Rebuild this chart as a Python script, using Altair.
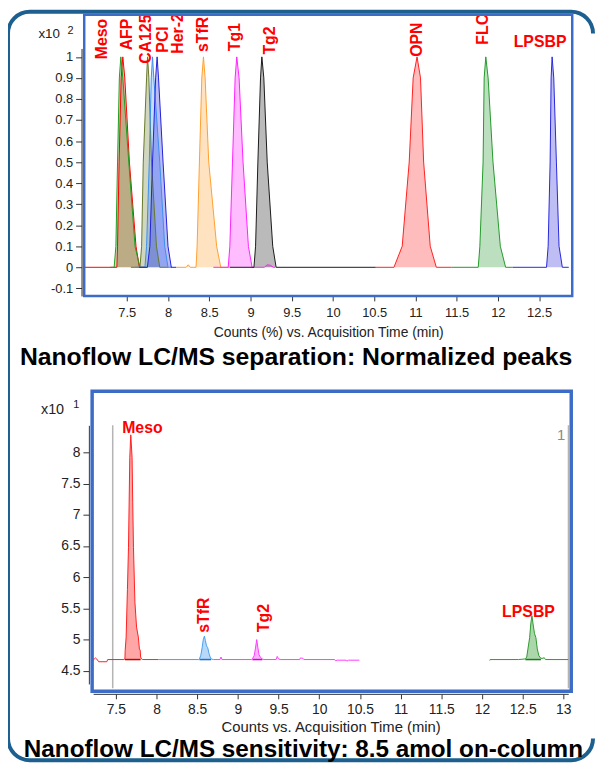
import altair as alt
import pandas as pd

W, H = 591, 756
FONT = "Liberation Sans"

# ---------------- top panel: normalized peaks ----------------
TOP_NAMES = ["Meso", "AFP", "CA125", "PCI", "Her-2", "sTfR", "Tg1", "Tg2", "OPN", "FLC", "LPSBP"]
TOP_COLORS = ["#ff0000", "#1e9e1e", "#66782a", "#3b8ff2", "#2020dd", "#ffa030",
              "#ff22ff", "#1a1a1a", "#ff2020", "#22992a", "#2727dd"]

MESO_T = [6.984, 7.38, 7.388, 7.407, 7.432, 7.452, 7.476, 7.532, 7.612, 7.653, 7.72]
MESO_V = [0, 0, 0.1, 0.5, 0.9, 1.0, 0.9, 0.5, 0.1, 0, 0]
AFP_T = [7.30, 7.347, 7.368, 7.388, 7.41, 7.428, 7.452, 7.524, 7.60, 7.66, 7.75]
AFP_V = [0, 0, 0.1, 0.5, 0.9, 1.0, 0.9, 0.5, 0.1, 0, 0]
CA125_T = [7.55, 7.66, 7.68, 7.70, 7.74, 7.752, 7.768, 7.80, 7.86, 7.90, 8.0]
CA125_V = [0, 0, 0.1, 0.5, 0.9, 1.0, 0.9, 0.5, 0.1, 0, 0]
PCI_T = [7.60, 7.72, 7.74, 7.773, 7.797, 7.812, 7.828, 7.90, 7.96, 8.0, 8.05]
PCI_V = [0, 0, 0.1, 0.5, 0.9, 1.0, 0.9, 0.5, 0.1, 0, 0]
HER2_T = [7.65, 7.75, 7.78, 7.812, 7.85, 7.868, 7.885, 7.94, 8.0, 8.04, 8.10]
HER2_V = [0, 0, 0.1, 0.5, 0.9, 1.0, 0.9, 0.5, 0.1, 0, 0]
STFR_T = [8.10, 8.22, 8.245, 8.27, 8.34, 8.353, 8.381, 8.41, 8.43, 8.45, 8.494, 8.59, 8.64, 8.75]
STFR_V = [0, 0, 0.012, 0, 0, 0.1, 0.5, 0.9, 1.0, 0.9, 0.5, 0.1, 0, 0]
TG1_T = [8.55, 8.73, 8.75, 8.782, 8.814, 8.834, 8.862, 8.91, 8.975, 9.02, 9.17, 9.20, 9.24, 9.28, 9.30]
TG1_V = [0, 0, 0.1, 0.5, 0.9, 1.0, 0.9, 0.5, 0.1, 0, 0, 0.012, 0.01, 0, 0]
TG2_T = [8.75, 9.042, 9.062, 9.09, 9.122, 9.138, 9.162, 9.203, 9.27, 9.311, 10.52]
TG2_V = [0, 0, 0.1, 0.5, 0.9, 1.0, 0.9, 0.5, 0.1, 0, 0]
OPN_T = [10.52, 10.74, 10.84, 10.925, 10.973, 11.02, 11.062, 11.10, 11.18, 11.254, 11.44]
OPN_V = [0, 0, 0.1, 0.5, 0.9, 1.0, 0.9, 0.5, 0.1, 0, 0]
FLC_T = [11.44, 11.762, 11.782, 11.821, 11.834, 11.854, 11.882, 11.941, 12.03, 12.094, 12.18]
FLC_V = [0, 0, 0.1, 0.5, 0.9, 1.0, 0.9, 0.5, 0.1, 0, 0]
LPSBP_T = [12.18, 12.59, 12.61, 12.634, 12.646, 12.658, 12.678, 12.71, 12.742, 12.782, 12.86]
LPSBP_V = [0, 0, 0.1, 0.5, 0.9, 1.0, 0.9, 0.5, 0.1, 0, 0]

TOP_T = [MESO_T, AFP_T, CA125_T, PCI_T, HER2_T, STFR_T, TG1_T, TG2_T, OPN_T, FLC_T, LPSBP_T]
TOP_V = [MESO_V, AFP_V, CA125_V, PCI_V, HER2_V, STFR_V, TG1_V, TG2_V, OPN_V, FLC_V, LPSBP_V]

TOP_XTICKS = [7.5, 8, 8.5, 9, 9.5, 10, 10.5, 11, 11.5, 12, 12.5]
TOP_YTICKS = [-0.1, 0, 0.1, 0.2, 0.3, 0.4, 0.5, 0.6, 0.7, 0.8, 0.9, 1]
TOP_XTITLE = "Counts (%) vs. Acquisition Time (min)"
TOP_TITLE = "Nanoflow LC/MS separation: Normalized peaks"

TOP_VLAB_TEXT = ["Meso", "AFP", "CA125", "PCI", "Her-2", "sTfR", "Tg1", "Tg2", "OPN", "FLC"]
TOP_VLAB_T = [7.206, 7.50, 7.734, 7.938, 8.118, 8.430, 8.814, 9.241, 11.017, 11.822]
TOP_VLAB_V = [0.989, 1.031, 0.967, 1.020, 1.015, 1.023, 1.027, 1.011, 1.0, 1.058]
TOP_HLAB_TEXT = ["LPSBP"]
TOP_HLAB_T = [12.512]
TOP_HLAB_V = [1.047]

# ---------------- bottom panel: sensitivity trace ----------------
BOT_SEGS = ["s1", "s2", "s3", "s4"]
BOT_COLORS = ["#ff2020", "#4a9ff0", "#ff3cff", "#2e9a2e"]
RED_T = [7.222, 7.25, 7.265, 7.29, 7.39, 7.40, 7.60, 7.612, 7.615, 7.627, 7.643, 7.656, 7.672, 7.684,
         7.70, 7.708, 7.717, 7.735, 7.755, 7.777, 7.79, 7.80, 7.805, 7.815, 7.83, 8.02]
RED_V = [4.67, 4.706, 4.69, 4.645, 4.645, 4.68, 4.68, 4.69, 4.82, 5.04, 5.8, 6.48, 7.92, 8.28,
         7.92, 7.2, 6.48, 5.6, 5.2, 5.04, 4.85, 4.83, 4.72, 4.69, 4.68, 4.68]
BLUE_T = [8.02, 8.52, 8.528, 8.545, 8.561, 8.575, 8.589, 8.60, 8.615, 8.63, 8.645, 8.66, 8.671, 8.70]
BLUE_V = [4.68, 4.68, 4.69, 4.75, 4.87, 5.0, 5.055, 4.99, 4.90, 4.87, 4.78, 4.72, 4.69, 4.68]
MAG_T = [8.70, 8.78, 8.793, 8.805, 9.17, 9.179, 9.20, 9.215, 9.232, 9.245, 9.26, 9.28, 9.301, 9.32,
         9.47, 9.484, 9.50, 9.52, 9.76, 9.768, 9.80, 9.81, 10.19, 10.20, 10.22, 10.33, 10.34, 10.36, 10.494]
MAG_V = [4.68, 4.68, 4.72, 4.68, 4.68, 4.69, 4.74, 4.85, 5.0, 4.88, 4.76, 4.71, 4.69, 4.68,
         4.68, 4.73, 4.69, 4.68, 4.68, 4.705, 4.70, 4.68, 4.68, 4.66, 4.67, 4.67, 4.655, 4.67, 4.67]
GRN_T = [12.096, 12.10, 12.45, 12.534, 12.55, 12.565, 12.586, 12.60, 12.614, 12.628, 12.645, 12.663,
         12.68, 12.70, 12.724, 12.75, 12.765, 12.78, 13.061]
GRN_V = [4.665, 4.68, 4.68, 4.69, 4.72, 4.85, 5.03, 5.25, 5.383, 5.25, 5.10, 5.03,
         4.85, 4.74, 4.70, 4.70, 4.71, 4.68, 4.68]
BOT_T = [RED_T, BLUE_T, MAG_T, GRN_T]
BOT_V = [RED_V, BLUE_V, MAG_V, GRN_V]

BASELINE = 4.68
PEAK_SEG = ["s1", "s2", "s3", "s4"]
PEAK_START = [7.612, 8.528, 9.179, 12.534]
PEAK_END = [7.805, 8.671, 9.301, 12.724]
PEAK_EDGE = ["#c80000", "#1f6fd0", "#d800d8", "#1a7a1a"]

SEGMENT_MARKS = [7.462, 13.063]
SEGMENT_TOP = 8.433
SEGMENT_BOTTOM = 4.22

BOT_XTICKS = [7.5, 8, 8.5, 9, 9.5, 10, 10.5, 11, 11.5, 12, 12.5, 13]
BOT_YTICKS = [4.5, 5, 5.5, 6, 6.5, 7, 7.5, 8]
BOT_XTITLE = "Counts vs. Acquisition Time (min)"
BOT_TITLE = "Nanoflow LC/MS sensitivity: 8.5 amol on-column"

BOT_VLAB_TEXT = ["sTfR", "Tg2"]
BOT_VLAB_T = [8.588, 9.328]
BOT_VLAB_V = [5.109, 5.119]
BOT_HLAB_TEXT = ["Meso", "LPSBP"]
BOT_HLAB_T = [7.827, 12.572]
BOT_HLAB_V = [8.317, 5.357]

# ---------------- helpers ----------------
ONE = pd.DataFrame({"k": [0]})


def fixed_text(txt, x, y, size, weight="normal", color="#222222", font=FONT,
               align="left", baseline="alphabetic"):
    return alt.Chart(pd.DataFrame({"s": [txt]})).mark_text(
        align=align, baseline=baseline, fontSize=size, fontWeight=weight,
        color=color, font=font
    ).encode(x=alt.value(x), y=alt.value(y), text="s:N")


def frame(x1, x2, y1, y2, width):
    return alt.Chart(ONE).mark_rect(
        fillOpacity=0, stroke="#3d6cc6", strokeWidth=width
    ).encode(x=alt.value(x1), x2=alt.value(x2), y=alt.value(y1), y2=alt.value(y2))


# ---------------- top panel ----------------
top_df = pd.concat(
    [pd.DataFrame({"t": T, "v": V, "peak": n}) for n, T, V in zip(TOP_NAMES, TOP_T, TOP_V)],
    ignore_index=True,
)
xs_top = alt.Scale(domain=[6.984, 12.902], range=[77, 570], nice=False, zero=False)
ys_top = alt.Scale(domain=[-0.136, 1.04], range=[287, 37], nice=False, zero=False)
col_top = alt.Scale(domain=TOP_NAMES, range=TOP_COLORS)

x_axis_top = alt.Axis(
    orient="bottom", offset=287 - H, values=TOP_XTICKS, domain=False, grid=False,
    tickSize=5, tickColor="#333333", labelFont=FONT, labelFontSize=13, labelColor="#222222",
    labelPadding=5.5, labelFlush=False, labelOverlap=False, format="~g",
    title=TOP_XTITLE, titleFont=FONT, titleFontSize=14, titleFontWeight="normal",
    titleColor="#222222", titleY=36.5, titleBaseline="middle",
)
y_axis_top = alt.Axis(
    orient="left", offset=-74.3, values=TOP_YTICKS, domain=True, domainColor="#222222",
    grid=False, tickSize=6, tickColor="#333333", labelFont=FONT, labelFontSize=13,
    labelColor="#222222", labelPadding=3, labelFlush=False, labelOverlap=False,
    labelExpr="datum.value < 0 ? '-' + format(-datum.value, '.1~f') : format(datum.value, '.1~f')",
    title=None,
)
X_TOP = alt.X("t:Q", scale=xs_top, axis=x_axis_top)
Y_TOP = alt.Y("v:Q", scale=ys_top, axis=y_axis_top, stack=None)

top_area = alt.Chart(top_df).mark_area(fillOpacity=0.3).encode(
    x=X_TOP, y=Y_TOP, color=alt.Color("peak:N", scale=col_top, legend=None),
)
top_line = alt.Chart(top_df).mark_line(strokeWidth=1).encode(
    x=X_TOP, y=Y_TOP, color=alt.Color("peak:N", scale=col_top, legend=None),
)
top_vlab = alt.Chart(pd.DataFrame({"t": TOP_VLAB_T, "v": TOP_VLAB_V, "s": TOP_VLAB_TEXT})).mark_text(
    angle=270, align="left", baseline="middle", font=FONT, fontSize=16,
    fontWeight="bold", color="#ff0000",
).encode(x=X_TOP, y=Y_TOP, text="s:N")
top_hlab = alt.Chart(pd.DataFrame({"t": TOP_HLAB_T, "v": TOP_HLAB_V, "s": TOP_HLAB_TEXT})).mark_text(
    align="center", baseline="alphabetic", font=FONT, fontSize=16,
    fontWeight="bold", color="#ff0000",
).encode(x=X_TOP, y=Y_TOP, text="s:N")

top_layer = alt.layer(
    top_area, top_line, top_vlab, top_hlab,
    frame(77, 570, 3, 287, 2.5),
    fixed_text("x10", 30.7, 26, 13.5),
    fixed_text("2", 60, 22, 11),
    fixed_text(TOP_TITLE, 12, 357, 25, weight="bold", color="#000000"),
)

# ---------------- bottom panel ----------------
bot_df = pd.concat(
    [pd.DataFrame({"t": T, "v": V, "seg": s}) for s, T, V in zip(BOT_SEGS, BOT_T, BOT_V)],
    ignore_index=True,
)
fill_parts = []
for s, a, b in zip(PEAK_SEG, PEAK_START, PEAK_END):
    part = bot_df[(bot_df["seg"] == s) & (bot_df["t"] >= a) & (bot_df["t"] <= b)].copy()
    part["base"] = BASELINE
    fill_parts.append(part)
fill_df = pd.concat(fill_parts, ignore_index=True)
edge_df = pd.DataFrame({"t": PEAK_START, "b": PEAK_END, "v": BASELINE, "edge": PEAK_EDGE})
mark_df = pd.DataFrame({"t": SEGMENT_MARKS, "v": SEGMENT_TOP, "bottom": SEGMENT_BOTTOM})

xs_bot = alt.Scale(domain=[7.2214, 13.0608], range=[86, 566], nice=False, zero=False)
ys_bot = alt.Scale(domain=[4.289, 8.433], range=[679, 417.7], nice=False, zero=False)
col_bot = alt.Scale(domain=BOT_SEGS, range=BOT_COLORS)

x_axis_bot = alt.Axis(
    orient="bottom", offset=689 - H, values=BOT_XTICKS, domain=True, domainColor="#333333",
    grid=False, tickSize=5, tickColor="#333333", labelFont=FONT, labelFontSize=14,
    labelColor="#222222", labelPadding=4, labelFlush=False, labelOverlap=False, format="~g",
    title=BOT_XTITLE, titleFont=FONT, titleFontSize=15, titleFontWeight="normal",
    titleColor="#222222", titleY=33.5, titleBaseline="middle",
)
y_axis_bot = alt.Axis(
    orient="left", offset=-81.7, values=BOT_YTICKS, domain=True, domainColor="#333333",
    grid=False, tickSize=6, tickColor="#333333", labelFont=FONT, labelFontSize=14,
    labelColor="#222222", labelPadding=3, labelFlush=False, labelOverlap=False, format="~g",
    title=None,
)
X_BOT = alt.X("t:Q", scale=xs_bot, axis=x_axis_bot)
Y_BOT = alt.Y("v:Q", scale=ys_bot, axis=y_axis_bot, stack=None)

bot_fill = alt.Chart(fill_df).mark_area(fillOpacity=0.4).encode(
    x=X_BOT, y=Y_BOT, y2="base:Q",
    color=alt.Color("seg:N", scale=col_bot, legend=None),
)
bot_edge = alt.Chart(edge_df).mark_rule(strokeWidth=1.5).encode(
    x=X_BOT, x2="b:Q", y=Y_BOT,
    color=alt.Color("edge:N", scale=None),
)
bot_line = alt.Chart(bot_df).mark_line(strokeWidth=1).encode(
    x=X_BOT, y=Y_BOT,
    color=alt.Color("seg:N", scale=col_bot, legend=None),
)
bot_marks = alt.Chart(mark_df).mark_rule(color="#b4b4b4", strokeWidth=1.5).encode(
    x=X_BOT, y=Y_BOT, y2="bottom:Q",
)
bot_vlab = alt.Chart(pd.DataFrame({"t": BOT_VLAB_T, "v": BOT_VLAB_V, "s": BOT_VLAB_TEXT})).mark_text(
    angle=270, align="left", baseline="middle", font=FONT, fontSize=16,
    fontWeight="bold", color="#ff0000",
).encode(x=X_BOT, y=Y_BOT, text="s:N")
bot_hlab = alt.Chart(pd.DataFrame({"t": BOT_HLAB_T, "v": BOT_HLAB_V, "s": BOT_HLAB_TEXT})).mark_text(
    align="center", baseline="alphabetic", font=FONT, fontSize=16,
    fontWeight="bold", color="#ff0000",
).encode(x=X_BOT, y=Y_BOT, text="s:N")

bot_layer = alt.layer(
    bot_marks, bot_fill, bot_edge, bot_line, bot_vlab, bot_hlab,
    frame(85, 569, 383.3, 686.3, 3.5),
    fixed_text("x10", 33.3, 406.7, 14.5),
    fixed_text("1", 66, 400.7, 11),
    fixed_text("1", 558.8, 432.7, 15, color="#8a8a8a", align="center"),
    fixed_text(BOT_TITLE, 16, 752.5, 24.5, weight="bold", color="#000000"),
)

# the outer card's right-hand side runs off the picture: hide its straight part
edge_cover = alt.Chart(ONE).mark_rule(color="white", strokeWidth=5).encode(
    x=alt.value(W - 0.5), y=alt.value(22), y2=alt.value(H - 22)
)

chart = alt.layer(top_layer, bot_layer, edge_cover).resolve_scale(
    x="independent", y="independent", color="independent"
).resolve_axis(
    x="independent", y="independent"
).properties(
    width=W, height=H, padding=0, background="white"
).configure_view(
    stroke="#1d5f8e", strokeWidth=4, cornerRadius=22, fill="white",
)

chart.save("out.html", embed_options={"renderer": "svg", "actions": False})
